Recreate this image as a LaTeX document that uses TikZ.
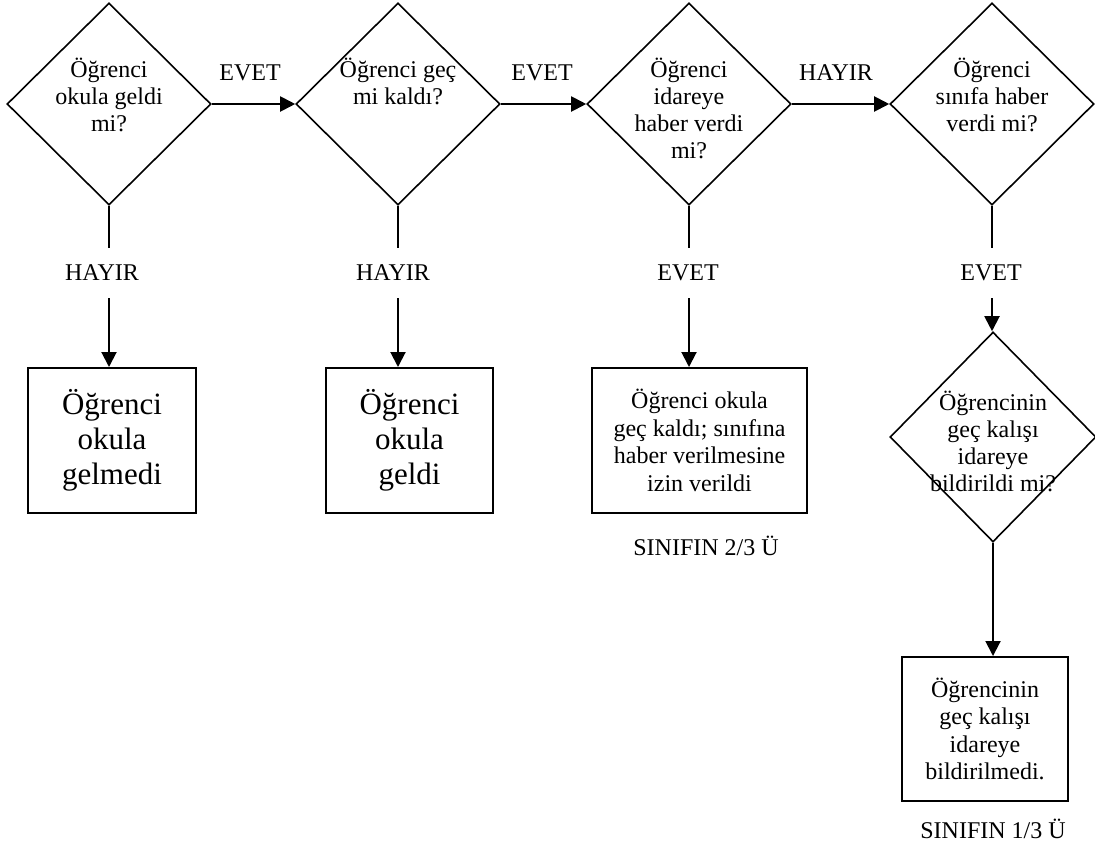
\documentclass[tikz,border=0pt]{standalone}
\usepackage{fontspec}
\setmainfont{Liberation Serif}
\usetikzlibrary{shapes.geometric, arrows.meta}

\begin{document}
\begin{tikzpicture}[x=0.5pt, y=-0.5pt,
    dec/.style={draw, diamond, line width=0.8pt, inner sep=0pt, minimum width=102pt, minimum height=101pt},
    dectxt/.style={anchor=north, inner sep=0pt, align=center, font=\fontsize{12pt}{13.5pt}\selectfont},
    res/.style={draw, rectangle, line width=1pt, align=center, minimum height=72.5pt, font=\fontsize{12pt}{13.8pt}\selectfont},
    bigres/.style={res, font=\fontsize{15.5pt}{17.5pt}\selectfont},
    lbl/.style={inner xsep=0pt, inner ysep=8.5pt, font=\fontsize{12pt}{14pt}\selectfont},
    arr/.style={line width=1pt, -{Triangle[length=7.5pt,width=7.5pt]}},
    ln/.style={line width=1pt}]
    \useasboundingbox (0,0) rectangle (1095,846);

    % decisions
    \node[dec] (q1) at (109,104) {};
    \node[dec] (q2) at (398,104) {};
    \node[dec] (q3) at (689,104) {};
    \node[dec] (q4) at (992,104) {};
    \node[dec, minimum width=103pt, minimum height=105pt] (q5) at (993,437) {};
    \node[dectxt] (q1t) at (109,58) {Öğrenci\\okula geldi\\mi?};
    \node[dectxt] (q2t) at (398,58) {Öğrenci geç\\mi kaldı?};
    \node[dectxt] (q3t) at (689,58) {Öğrenci\\idareye\\haber verdi\\mi?};
    \node[dectxt] (q4t) at (992,58) {Öğrenci\\sınıfa haber\\verdi mi?};
    \node[dectxt, anchor=center] (q5t) at (993,441) {Öğrencinin\\geç kalışı\\idareye\\bildirildi mi?};

    % results
    \node[bigres, minimum width=84pt] (b1) at (112,440.5) {Öğrenci\\okula\\gelmedi};
    \node[bigres, minimum width=83.5pt] (b2) at (409.5,440.5) {Öğrenci\\okula\\geldi};
    \node[res, minimum width=107.5pt] (b3) at (699.5,440.5) {Öğrenci okula\\geç kaldı; sınıfına\\haber verilmesine\\izin verildi};
    \node[res, minimum width=83pt, minimum height=72pt] (b4) at (985,729) {Öğrencinin\\geç kalışı\\idareye\\bildirilmedi.};

    % answers
    \node[lbl] (e1) at (250,73) {EVET};
    \node[lbl] (e2) at (542,73) {EVET};
    \node[lbl] (h3) at (836,73) {HAYIR};
    \node[lbl] (h1) at (102,273) {HAYIR};
    \node[lbl] (h2) at (393,273) {HAYIR};
    \node[lbl] (e3) at (688,273) {EVET};
    \node[lbl] (e4) at (991,273) {EVET};
    \node[lbl] (s1) at (706,546) {SINIFIN 2/3 Ü};
    \node[lbl] (s2) at (993,829) {SINIFIN 1/3 Ü};

    \draw[arr] (q1.east) -- (q2.west);
    \draw[arr] (q2.east) -- (q3.west);
    \draw[arr] (q3.east) -- (q4.west);
    \draw[ln] (q1.south) -- (q1.south |- h1.north);
    \draw[arr] (q1.south |- h1.south) -- (q1.south |- b1.north);
    \draw[ln] (q2.south) -- (q2.south |- h2.north);
    \draw[arr] (q2.south |- h2.south) -- (q2.south |- b2.north);
    \draw[ln] (q3.south) -- (q3.south |- e3.north);
    \draw[arr] (q3.south |- e3.south) -- (q3.south |- b3.north);
    \draw[ln] (q4.south) -- (q4.south |- e4.north);
    \draw[arr] (q4.south |- e4.south) -- (q4.south |- q5.north);
    \draw[arr] (q5.south) -- (q5.south |- b4.north);
\end{tikzpicture}
\end{document}
